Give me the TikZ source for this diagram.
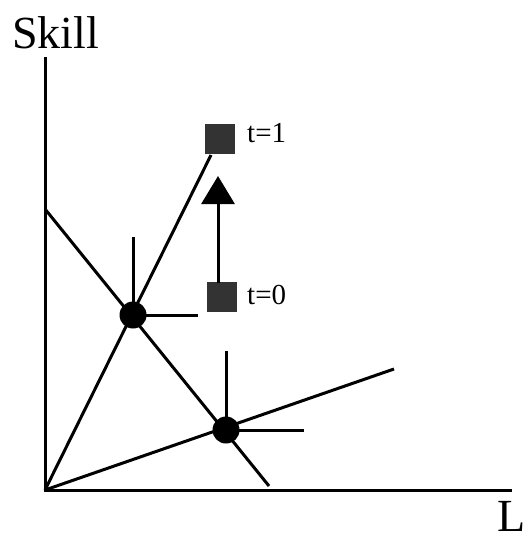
\documentclass[tikz,border=0pt]{standalone}
\usepackage{fontspec}
\setmainfont{Liberation Serif}
\usetikzlibrary{arrows.meta}
\begin{document}
\begin{tikzpicture}[x=1pt,y=-1pt,
  line/.style={line width=3pt},
  dot/.style={circle,fill=black,minimum size=27pt,inner sep=0pt},
  sq/.style={rectangle,fill=black!80,minimum size=30pt,inner sep=0pt},
  biglab/.style={anchor=base west,inner sep=0pt,font=\fontsize{46}{50}\selectfont},
  tlab/.style={anchor=base west,inner sep=0pt,font=\fontsize{29}{32}\selectfont}]
\useasboundingbox (0,0) rectangle (530,540);
% coordinates
\coordinate (O) at (45,490);
\coordinate (ytop) at (45,57);
\coordinate (xend) at (512,490);
\coordinate (dA) at (45,209);
\coordinate (dB) at (269,486);
\coordinate (rEnd) at (394,369);
\coordinate (v1) at (133,237);
\coordinate (h1) at (198,315);
\coordinate (v2) at (226,351);
\coordinate (h2) at (304,430);
\coordinate (s1b) at (211,155);
\coordinate (arrS) at (218,283);
\coordinate (arrT) at (218,176);
% lines
\draw[line] (ytop) -- (O) -- (xend);
\draw[line] (dA) -- (dB);
\draw[line] (O) -- (s1b);
\draw[line] (O) -- (rEnd);
% dots
\node[dot] (p1) at (133,315) {};
\node[dot] (p2) at (226,430) {};
\draw[line] (p1.center) -- (v1);
\draw[line] (p1.center) -- (h1);
\draw[line] (p2.center) -- (v2);
\draw[line] (p2.center) -- (h2);
% squares
\node[sq] (t1) at (219.5,139.5) {};
\node[sq] (t0) at (222,297) {};
\draw[line,-{Triangle[length=28pt,width=33pt]}] (arrS) -- (arrT);
% labels
\node[tlab] (lt1) at (247,143) {t=1};
\node[tlab] (lt0) at (247,304) {t=0};
\node[biglab] (skill) at (12,49) {Skill};
\node[biglab] (L) at (497,531) {L};
\end{tikzpicture}
\end{document}
